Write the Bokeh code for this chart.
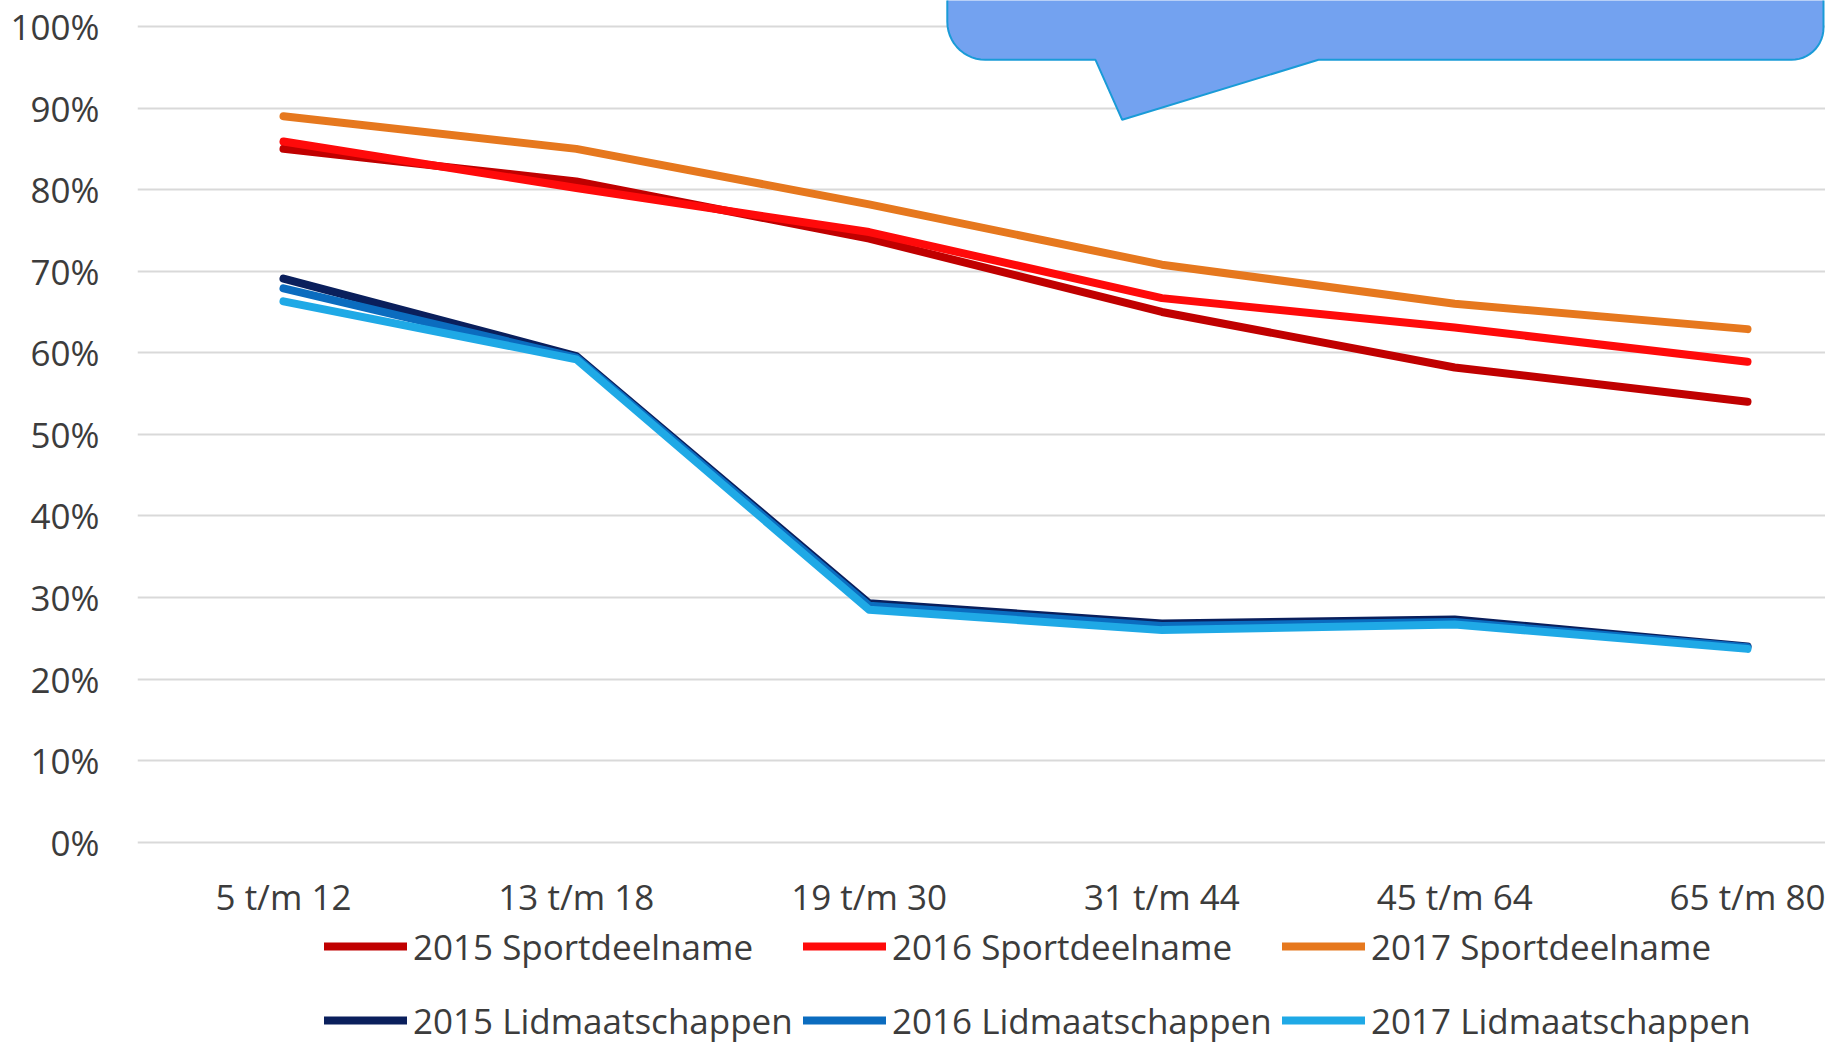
import numpy as np
from bokeh.plotting import figure
from bokeh.models import FixedTicker, Legend, LegendItem, NumeralTickFormatter, Range1d
from bokeh.embed import file_html
from bokeh.resources import INLINE

# ---------------- data ----------------
categories = ["5 t/m 12", "13 t/m 18", "19 t/m 30", "31 t/m 44", "45 t/m 64", "65 t/m 80"]
sport_2015 = [0.850, 0.810, 0.740, 0.650, 0.582, 0.540]
sport_2016 = [0.859, 0.802, 0.748, 0.667, 0.631, 0.589]
sport_2017 = [0.890, 0.850, 0.782, 0.708, 0.660, 0.629]
lid_2015 = [0.691, 0.596, 0.293, 0.268, 0.273, 0.240]
lid_2016 = [0.679, 0.594, 0.290, 0.265, 0.270, 0.239]
lid_2017 = [0.663, 0.592, 0.285, 0.260, 0.267, 0.237]
y_ticks = [0.0, 0.1, 0.2, 0.3, 0.4, 0.5, 0.6, 0.7, 0.8, 0.9, 1.0]

series = [
    ("2015 Sportdeelname", sport_2015, "#C00000"),
    ("2016 Sportdeelname", sport_2016, "#FF0A0A"),
    ("2017 Sportdeelname", sport_2017, "#E6781E"),
    ("2015 Lidmaatschappen", lid_2015, "#0A1F5C"),
    ("2016 Lidmaatschappen", lid_2016, "#0B6CBF"),
    ("2017 Lidmaatschappen", lid_2017, "#1FA9E6"),
]

# ---------------- layout ----------------
W, H = 1825, 1044
frame_left = 137
cat0_px = 283.0
step = 292.8
y1_px = 26.0
per_unit = 815.7

x_start = -(cat0_px - frame_left) / step
x_end = x_start + (W - frame_left) / step
y_end = 1.0 + y1_px / per_unit
y_start = y_end - H / per_unit

FONT = "Open Sans"
TXT = "#3C3C3C"

p = figure(width=W, height=H, x_range=Range1d(x_start, x_end), y_range=Range1d(y_start, y_end),
           output_backend="svg", toolbar_location=None,
           min_border_left=frame_left, min_border_right=0, min_border_top=0,
           min_border_bottom=0)
p.outline_line_color = None
p.background_fill_color = "white"
p.border_fill_color = "white"

# axes
p.xaxis.fixed_location = 0
p.xaxis.ticker = FixedTicker(ticks=list(range(len(categories))))
p.xaxis.major_label_overrides = {i: c for i, c in enumerate(categories)}
p.xaxis.axis_line_color = None
p.xaxis.major_tick_line_color = None
p.xaxis.minor_tick_line_color = None
p.xaxis.major_tick_out = 0
p.xaxis.major_tick_in = 0
p.xaxis.major_label_standoff = 31
p.xaxis.major_label_text_font = FONT
p.xaxis.major_label_text_font_size = "35px"
p.xaxis.major_label_text_color = TXT

p.yaxis.ticker = FixedTicker(ticks=y_ticks)
p.yaxis.formatter = NumeralTickFormatter(format="0%")
p.yaxis.axis_line_color = None
p.yaxis.major_tick_line_color = None
p.yaxis.minor_tick_line_color = None
p.yaxis.major_tick_out = 0
p.yaxis.major_tick_in = 0
p.yaxis.major_label_standoff = 38
p.yaxis.major_label_text_font = FONT
p.yaxis.major_label_text_font_size = "35px"
p.yaxis.major_label_text_color = TXT

p.xgrid.grid_line_color = None
p.ygrid.ticker = FixedTicker(ticks=y_ticks)
p.ygrid.grid_line_color = "#D9D9D9"
p.ygrid.grid_line_width = 2

# lines
xs = list(range(len(categories)))
renderers = []
for name, vals, col in series:
    r = p.line(xs, vals, line_color=col, line_width=8, line_cap="round", line_join="round")
    renderers.append((name, r))

# callout shape (decoration) defined in canvas pixels, mapped to data space
def dx(cx):
    return x_start + (cx - frame_left) / step

def dy(cy):
    return y_end - cy / per_unit

left, bottom, r1 = 946.8, 59.3, 38.0
right, r2 = 1823.0, 32.0
top = -80.0
pts = [(left, top), (left, bottom - r1)]
for a in np.linspace(np.pi, np.pi / 2, 14):
    pts.append((left + r1 + r1 * np.cos(a), bottom - r1 + r1 * np.sin(a)))
pts += [(1095.0, bottom), (1121.7, 119.3), (1318.0, bottom), (right - r2, bottom)]
for a in np.linspace(np.pi / 2, 0, 14):
    pts.append((right - r2 + r2 * np.cos(a), bottom - r2 + r2 * np.sin(a)))
pts.append((right, top))
p.patch([dx(a) for a, b in pts], [dy(b) for a, b in pts],
        fill_color="#73A2F0", line_color="#1A9BD7", line_width=2)

# legends: two rows of three
def make_legend(items, y):
    lg = Legend(items=[LegendItem(label=n, renderers=[r]) for n, r in items],
                location=(187, y), orientation="horizontal",
                padding=0, margin=0, spacing=0,
                glyph_width=83, glyph_height=48, label_height=48,
                label_width=390, label_standoff=6,
                label_text_font=FONT, label_text_font_size="35px",
                label_text_color=TXT,
                border_line_color=None, background_fill_alpha=0)
    p.add_layout(lg, "center")

make_legend(renderers[:3], 74)
make_legend(renderers[3:], 0)

open("out.html", "w").write(file_html(p, INLINE))
